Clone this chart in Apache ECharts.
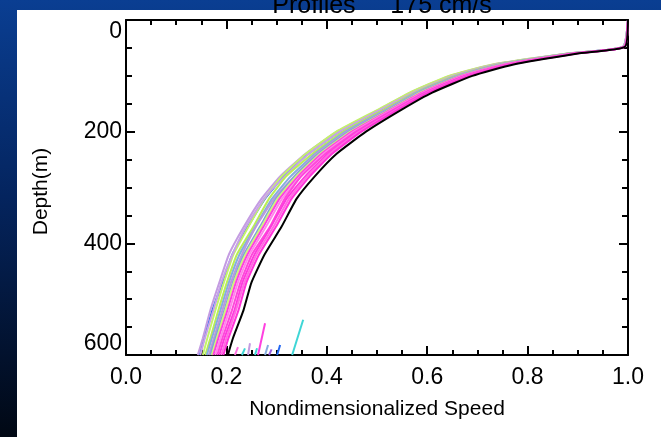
<!DOCTYPE html>
<html>
<head>
<meta charset="utf-8">
<script src="https://cdn.jsdelivr.net/npm/echarts@6/dist/echarts.min.js"></script>
<style>
html,body{margin:0;padding:0;width:661px;height:437px;overflow:hidden;}
body{background:linear-gradient(to bottom,#0a3e92 0%,#04245e 45%,#010814 100%);position:relative;}
#panel{position:absolute;left:17px;top:10px;right:0;bottom:0;background:#fff;}
#chart{position:absolute;left:0;top:0;width:661px;height:437px;}
</style>
</head>
<body>
<div id="panel"></div>
<div id="chart"></div>
<script>
// Shared depth levels (m)
const depths = [0, 48, 60, 80, 100, 130, 160, 200, 240, 280, 320, 370, 420, 470, 520, 570, 600];

// Profiles: nondimensionalized speed at each depth level
const profLav1   = [1.0, 0.99, 0.88, 0.73, 0.645, 0.566, 0.505, 0.42, 0.357, 0.307, 0.27, 0.235, 0.205, 0.186, 0.168, 0.153, 0.143];
const profLav2   = [1.0, 0.99, 0.882, 0.733, 0.65, 0.572, 0.508, 0.426, 0.364, 0.316, 0.275, 0.239, 0.212, 0.19, 0.174, 0.157, 0.148];
const profBlue   = [1.0, 0.99, 0.882, 0.734, 0.65, 0.571, 0.51, 0.426, 0.363, 0.314, 0.277, 0.243, 0.212, 0.192, 0.172, 0.156, 0.147];
const profYG1    = [1.0, 0.99, 0.879, 0.728, 0.643, 0.565, 0.503, 0.419, 0.358, 0.31, 0.276, 0.244, 0.214, 0.195, 0.178, 0.162, 0.153];
const profYG2    = [1.0, 0.991, 0.884, 0.739, 0.655, 0.576, 0.515, 0.433, 0.371, 0.319, 0.285, 0.254, 0.221, 0.201, 0.184, 0.168, 0.158];
const profSteel1 = [1.0, 0.991, 0.886, 0.742, 0.659, 0.579, 0.519, 0.437, 0.376, 0.328, 0.291, 0.258, 0.226, 0.205, 0.188, 0.171, 0.161];
const profLav3   = [1.0, 0.991, 0.887, 0.744, 0.661, 0.582, 0.521, 0.441, 0.379, 0.335, 0.295, 0.259, 0.231, 0.209, 0.192, 0.175, 0.165];
const profSteel2 = [1.0, 0.992, 0.888, 0.747, 0.664, 0.584, 0.524, 0.444, 0.383, 0.336, 0.299, 0.267, 0.235, 0.213, 0.196, 0.178, 0.168];
const profYG3    = [1.0, 0.992, 0.889, 0.748, 0.666, 0.586, 0.526, 0.447, 0.386, 0.339, 0.302, 0.27, 0.238, 0.215, 0.198, 0.181, 0.171];
const profMag1   = [1.0, 0.992, 0.89, 0.751, 0.668, 0.589, 0.528, 0.45, 0.389, 0.343, 0.306, 0.274, 0.242, 0.219, 0.202, 0.184, 0.174];
const profPink1  = [1.0, 0.992, 0.892, 0.753, 0.671, 0.592, 0.531, 0.454, 0.393, 0.347, 0.311, 0.279, 0.246, 0.223, 0.206, 0.188, 0.178];
const profMag2   = [1.0, 0.993, 0.893, 0.756, 0.674, 0.595, 0.534, 0.458, 0.397, 0.349, 0.316, 0.287, 0.251, 0.228, 0.211, 0.192, 0.182];
const profMag3   = [1.0, 0.993, 0.894, 0.759, 0.677, 0.598, 0.537, 0.462, 0.402, 0.357, 0.32, 0.289, 0.256, 0.232, 0.216, 0.196, 0.186];
const profPink2  = [1.0, 0.993, 0.896, 0.761, 0.68, 0.6, 0.54, 0.465, 0.405, 0.361, 0.325, 0.294, 0.26, 0.236, 0.219, 0.2, 0.19];
const profMag4   = [1.0, 0.993, 0.897, 0.764, 0.683, 0.603, 0.543, 0.469, 0.41, 0.366, 0.33, 0.299, 0.265, 0.24, 0.224, 0.204, 0.194];
const profBlack  = [1.0, 0.994, 0.90, 0.77, 0.69, 0.61, 0.55, 0.478, 0.419, 0.376, 0.34, 0.31, 0.276, 0.25, 0.234, 0.213, 0.203];

const profiles = [
  {v: profBlue,   c: '#2468f2'},
  {v: profLav1,   c: '#c49ce2'},
  {v: profYG1,    c: '#c4f26a'},
  {v: profLav2,   c: '#c8a4e6'},
  {v: profYG2,    c: '#baee54'},
  {v: profSteel1, c: '#86aede'},
  {v: profLav3,   c: '#bc98dc'},
  {v: profSteel2, c: '#7ca6d6'},
  {v: profYG3,    c: '#d2f47e'},
  {v: profMag1,   c: '#ff40e0'},
  {v: profPink1,  c: '#ff86ea'},
  {v: profMag2,   c: '#ff48da'},
  {v: profMag3,   c: '#ff3ade'},
  {v: profPink2,  c: '#ff6ae2'},
  {v: profMag4,   c: '#ff34d8'},
  {v: profBlack,  c: '#000000'}
];

// Short spikes near the bottom
const spikeSpeedBottom = [0.217, 0.231, 0.243, 0.257, 0.263, 0.277, 0.285, 0.301, 0.331];
const spikeSpeedTop    = [0.223, 0.237, 0.247, 0.261, 0.277, 0.283, 0.290, 0.307, 0.353];
const spikeDepthTop    = [586, 588, 579, 588, 543, 582, 590, 582, 537];
const spikeColors      = ['#ff70e0', '#3fd6d6', '#c49ce2', '#3fd6d6', '#ff40e0', '#86aede', '#9a5ee0', '#2468f2', '#3fd6d6'];

const xTickLabels = ['0.0', '0.2', '0.4', '0.6', '0.8', '1.0'];
const yTickLabels = ['0', '200', '400', '600'];

const FONT = '"Liberation Sans", Arial, Helvetica, sans-serif';

const series = [];
profiles.forEach((p, k) => {
  series.push({
    type: 'line', name: 'p' + k,
    data: depths.map((d, i) => [p.v[i], d]),
    showSymbol: false, symbol: 'none', smooth: 0.15,
    lineStyle: {color: p.c, width: 2},
    z: 3 + k
  });
});
spikeSpeedBottom.forEach((s, i) => {
  series.push({
    type: 'line', name: 's' + i,
    data: [[s, 600], [spikeSpeedTop[i], spikeDepthTop[i]]],
    showSymbol: false, symbol: 'none',
    lineStyle: {color: spikeColors[i], width: 2},
    z: 2
  });
});

const chart = echarts.init(document.getElementById('chart'), null, {renderer: 'canvas'});
chart.setOption({
  animation: false,
  backgroundColor: 'transparent',
  title: {
    text: 'Profiles     175 cm/s',
    left: 377, top: -11, textAlign: 'center',
    textStyle: {fontFamily: FONT, fontSize: 25, fontWeight: 'normal', color: '#000'}
  },
  grid: {left: 126, right: 33, top: 20, bottom: 82, containLabel: false},
  xAxis: [{
    type: 'value', min: 0, max: 1, interval: 0.2, position: 'bottom',
    name: 'Nondimensionalized Speed', nameLocation: 'middle', nameGap: 44,
    nameTextStyle: {fontFamily: FONT, fontSize: 21, color: '#000'},
    axisLine: {show: true, onZero: false, lineStyle: {color: '#000', width: 2}},
    axisTick: {show: true, inside: true, length: 9, lineStyle: {color: '#000', width: 2}},
    minorTick: {show: true, splitNumber: 4, length: 5, lineStyle: {color: '#000', width: 2}},
    axisLabel: {margin: 11, fontFamily: FONT, fontSize: 23, color: '#000',
      formatter: v => xTickLabels[Math.round(v / 0.2)]},
    splitLine: {show: false}, minorSplitLine: {show: false}
  }, {
    type: 'value', min: 0, max: 1, interval: 0.2, position: 'top',
    axisLine: {show: true, onZero: false, lineStyle: {color: '#000', width: 2}},
    axisTick: {show: true, inside: true, length: 9, lineStyle: {color: '#000', width: 2}},
    minorTick: {show: true, splitNumber: 4, length: 5, lineStyle: {color: '#000', width: 2}},
    axisLabel: {show: false}, splitLine: {show: false}
  }],
  yAxis: [{
    type: 'value', min: 0, max: 600, interval: 200, inverse: true, position: 'left',
    name: 'Depth(m)', nameLocation: 'middle', nameGap: 74, nameRotate: 90,
    nameTextStyle: {fontFamily: FONT, fontSize: 21, color: '#000', padding: [0, 8, 0, 0]},
    axisLine: {show: true, onZero: false, lineStyle: {color: '#000', width: 2}},
    axisTick: {show: true, inside: true, length: 9, lineStyle: {color: '#000', width: 2}},
    minorTick: {show: true, splitNumber: 4, length: 6, lineStyle: {color: '#000', width: 2}},
    axisLabel: {margin: 4, fontFamily: FONT, fontSize: 23, color: '#000',
      verticalAlignMinLabel: 'top', verticalAlignMaxLabel: 'bottom',
      formatter: v => yTickLabels[Math.round(v / 200)]},
    splitLine: {show: false}
  }, {
    type: 'value', min: 0, max: 600, interval: 200, inverse: true, position: 'right',
    axisLine: {show: true, onZero: false, lineStyle: {color: '#000', width: 2}},
    axisTick: {show: true, inside: true, length: 9, lineStyle: {color: '#000', width: 2}},
    minorTick: {show: true, splitNumber: 4, length: 6, lineStyle: {color: '#000', width: 2}},
    axisLabel: {show: false}, splitLine: {show: false}
  }],
  series: series
});
</script>
</body>
</html>
